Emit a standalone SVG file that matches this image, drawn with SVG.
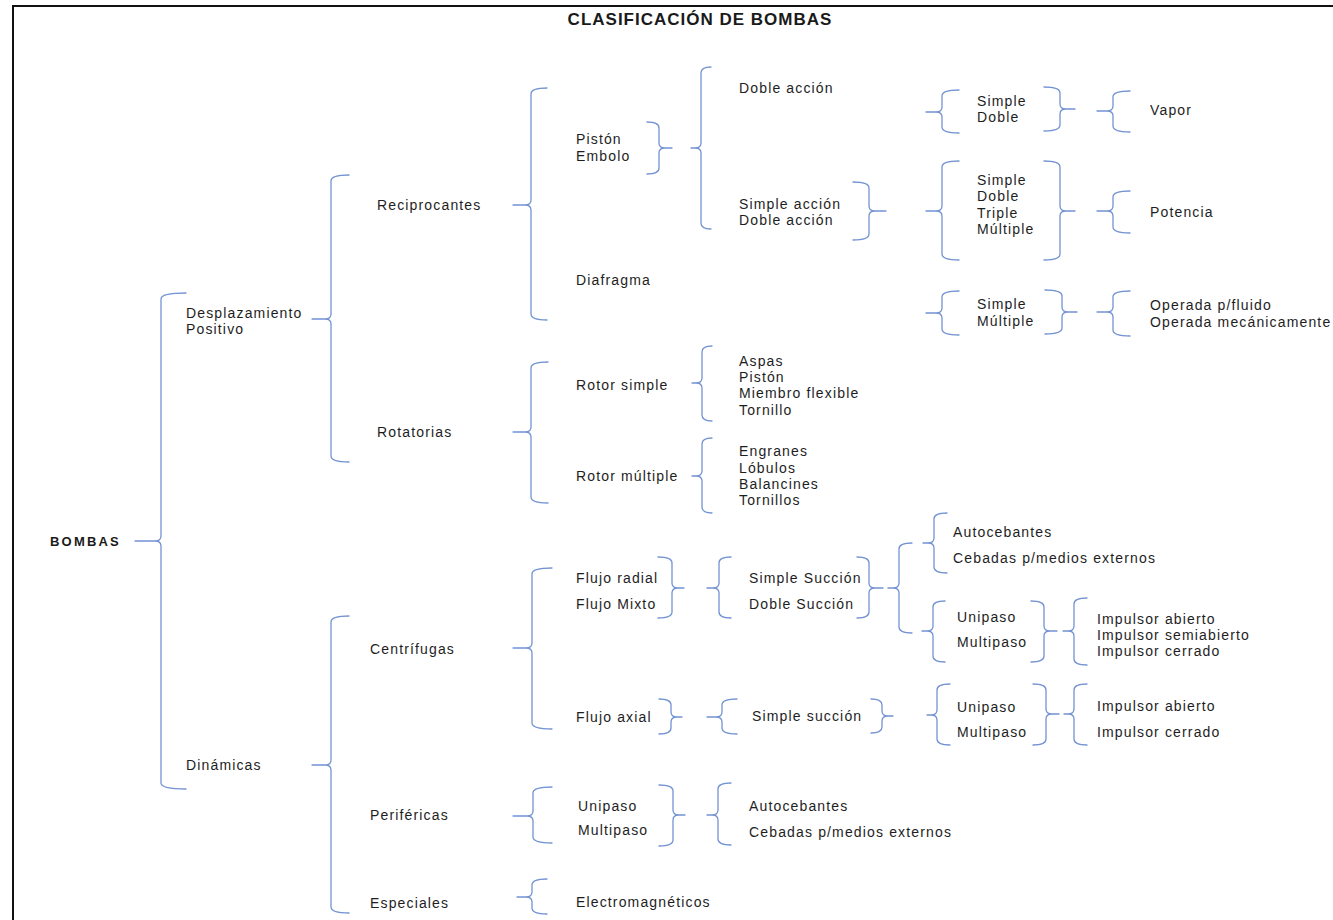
<svg xmlns="http://www.w3.org/2000/svg" width="1333" height="920" viewBox="0 0 1333 920">
<style>
.t{font-family:"Liberation Sans",Arial,sans-serif;font-size:14px;letter-spacing:1.15px;fill:#1e1e1e}
.b{font-family:"Liberation Sans",Arial,sans-serif;font-weight:bold;fill:#1a1a1a}
.br{fill:none;stroke:#7393d3;stroke-width:1.3;stroke-linecap:round;stroke-linejoin:round}
</style>
<rect x="0" y="0" width="1333" height="920" fill="#fff"/>
<path d="M13,920 L13,6 L1333,6" fill="none" stroke="#111" stroke-width="2"/>
<g id="title"><text class="b" x="700" y="25" font-size="17" letter-spacing="1" text-anchor="middle">CLASIFICACIÓN DE BOMBAS</text></g>
<g id="connectors">
<path class="br" d="M186,293 Q161,293 161,299 L161,536 Q161,541 155,541 L135,541 M155,541 Q161,541 161,546 L161,783 Q161,789 186,789"/>
<path class="br" d="M349,175 Q331,175 331,181 L331,314 Q331,319 325,319 L312,319 M325,319 Q331,319 331,324 L331,456 Q331,462 349,462"/>
<path class="br" d="M547,88 Q531,88 531,94 L531,200 Q531,205 525,205 L513,205 M525,205 Q531,205 531,210 L531,314 Q531,320 547,320"/>
<path class="br" d="M647,122 Q659,122 659,128 L659,143 Q659,148 665,148 L672,148 M665,148 Q659,148 659,153 L659,168 Q659,174 647,174"/>
<path class="br" d="M711,67 Q701,67 701,73 L701,143 Q701,148 695,148 L691,148 M695,148 Q701,148 701,153 L701,223 Q701,229 711,229"/>
<path class="br" d="M853,182 Q869,182 869,188 L869,206 Q869,211 875,211 L886,211 M875,211 Q869,211 869,216 L869,234 Q869,240 853,240"/>
<path class="br" d="M959,90 Q942,90 942,96 L942,107 Q942,112 936,112 L926,112 M936,112 Q942,112 942,117 L942,127 Q942,133 959,133"/>
<path class="br" d="M1044,87 Q1060,87 1060,93 L1060,104 Q1060,109 1066,109 L1075,109 M1066,109 Q1060,109 1060,114 L1060,125 Q1060,131 1044,131"/>
<path class="br" d="M1130,91 Q1113,91 1113,97 L1113,106 Q1113,111 1107,111 L1097,111 M1107,111 Q1113,111 1113,116 L1113,126 Q1113,132 1130,132"/>
<path class="br" d="M959,161 Q942,161 942,167 L942,206 Q942,211 936,211 L926,211 M936,211 Q942,211 942,216 L942,254 Q942,260 959,260"/>
<path class="br" d="M1044,161 Q1060,161 1060,167 L1060,206 Q1060,211 1066,211 L1075,211 M1066,211 Q1060,211 1060,216 L1060,254 Q1060,260 1044,260"/>
<path class="br" d="M1130,191 Q1113,191 1113,197 L1113,206 Q1113,211 1107,211 L1097,211 M1107,211 Q1113,211 1113,216 L1113,227 Q1113,233 1130,233"/>
<path class="br" d="M959,291 Q942,291 942,297 L942,308 Q942,313 936,313 L926,313 M936,313 Q942,313 942,318 L942,329 Q942,335 959,335"/>
<path class="br" d="M1045,290 Q1062,290 1062,296 L1062,307 Q1062,312 1068,312 L1077,312 M1068,312 Q1062,312 1062,317 L1062,328 Q1062,334 1045,334"/>
<path class="br" d="M1130,291 Q1113,291 1113,297 L1113,307 Q1113,312 1107,312 L1097,312 M1107,312 Q1113,312 1113,317 L1113,330 Q1113,336 1130,336"/>
<path class="br" d="M548,362 Q531,362 531,368 L531,427 Q531,432 525,432 L513,432 M525,432 Q531,432 531,437 L531,497 Q531,503 548,503"/>
<path class="br" d="M712,346 Q702,346 702,352 L702,378 Q702,383 696,383 L692,383 M696,383 Q702,383 702,388 L702,415 Q702,421 712,421"/>
<path class="br" d="M712,438 Q702,438 702,444 L702,471 Q702,476 696,476 L692,476 M696,476 Q702,476 702,481 L702,507 Q702,513 712,513"/>
<path class="br" d="M349,616 Q331,616 331,622 L331,760 Q331,765 325,765 L312,765 M325,765 Q331,765 331,770 L331,907 Q331,913 349,913"/>
<path class="br" d="M552,568 Q532,568 532,574 L532,643 Q532,648 526,648 L513,648 M526,648 Q532,648 532,653 L532,723 Q532,729 552,729"/>
<path class="br" d="M658,557 Q672,557 672,563 L672,583 Q672,588 678,588 L684,588 M678,588 Q672,588 672,593 L672,612 Q672,618 658,618"/>
<path class="br" d="M731,557 Q719,557 719,563 L719,583 Q719,588 713,588 L707,588 M713,588 Q719,588 719,593 L719,612 Q719,618 731,618"/>
<path class="br" d="M857,557 Q869,557 869,563 L869,583 Q869,588 875,588 L883,588 M875,588 Q869,588 869,593 L869,612 Q869,618 857,618"/>
<path class="br" d="M912,543 Q899,543 899,549 L899,583 Q899,588 893,588 L888,588 M893,588 Q899,588 899,593 L899,627 Q899,633 912,633"/>
<path class="br" d="M947,513 Q934,513 934,519 L934,538 Q934,543 928,543 L923,543 M928,543 Q934,543 934,548 L934,567 Q934,573 947,573"/>
<path class="br" d="M945,601 Q933,601 933,607 L933,626 Q933,631 927,631 L922,631 M927,631 Q933,631 933,636 L933,656 Q933,662 945,662"/>
<path class="br" d="M1031,601 Q1044,601 1044,607 L1044,626 Q1044,631 1050,631 L1057,631 M1050,631 Q1044,631 1044,636 L1044,656 Q1044,662 1031,662"/>
<path class="br" d="M1087,598 Q1074,598 1074,604 L1074,626 Q1074,631 1068,631 L1063,631 M1068,631 Q1074,631 1074,636 L1074,659 Q1074,665 1087,665"/>
<path class="br" d="M659,699 Q671,699 671,705 L671,712 Q671,717 677,717 L682,717 M677,717 Q671,717 671,722 L671,728 Q671,734 659,734"/>
<path class="br" d="M737,699 Q722,699 722,705 L722,712 Q722,717 716,717 L707,717 M716,717 Q722,717 722,722 L722,728 Q722,734 737,734"/>
<path class="br" d="M871,699 Q882,699 882,705 L882,711 Q882,716 888,716 L893,716 M888,716 Q882,716 882,721 L882,727 Q882,733 871,733"/>
<path class="br" d="M950,684 Q937,684 937,690 L937,710 Q937,715 931,715 L927,715 M931,715 Q937,715 937,720 L937,739 Q937,745 950,745"/>
<path class="br" d="M1033,684 Q1046,684 1046,690 L1046,709 Q1046,714 1052,714 L1059,714 M1052,714 Q1046,714 1046,719 L1046,739 Q1046,745 1033,745"/>
<path class="br" d="M1087,684 Q1074,684 1074,690 L1074,709 Q1074,714 1068,714 L1064,714 M1068,714 Q1074,714 1074,719 L1074,739 Q1074,745 1087,745"/>
<path class="br" d="M552,787 Q533,787 533,793 L533,811 Q533,816 527,816 L513,816 M527,816 Q533,816 533,821 L533,837 Q533,843 552,843"/>
<path class="br" d="M659,785 Q673,785 673,791 L673,810 Q673,815 679,815 L685,815 M679,815 Q673,815 673,820 L673,840 Q673,846 659,846"/>
<path class="br" d="M731,783 Q718,783 718,789 L718,810 Q718,815 712,815 L707,815 M712,815 Q718,815 718,820 L718,839 Q718,845 731,845"/>
<path class="br" d="M547,879 Q532,879 532,885 L532,892 Q532,897 526,897 L517,897 M526,897 Q532,897 532,902 L532,908 Q532,914 547,914"/>
</g>
<g id="n-bombas"><text class="b" x="50" y="546" font-size="13" letter-spacing="2.2">BOMBAS</text></g>
<g id="n-desplazamiento"><text class="t" x="186" y="318">Desplazamiento</text><text class="t" x="186" y="334">Positivo</text></g>
<g id="n-dinamicas"><text class="t" x="186" y="770">Dinámicas</text></g>
<g id="n-reciprocantes"><text class="t" x="377" y="210">Reciprocantes</text></g>
<g id="n-rotatorias"><text class="t" x="377" y="437">Rotatorias</text></g>
<g id="n-piston"><text class="t" x="576" y="144">Pistón</text><text class="t" x="576" y="161">Embolo</text></g>
<g id="n-diafragma"><text class="t" x="576" y="285">Diafragma</text></g>
<g id="n-doble-accion"><text class="t" x="739" y="93">Doble acción</text></g>
<g id="n-simple-accion"><text class="t" x="739" y="209">Simple acción</text><text class="t" x="739" y="225">Doble acción</text></g>
<g id="n-simple-doble"><text class="t" x="977" y="106">Simple</text><text class="t" x="977" y="122">Doble</text></g>
<g id="n-vapor"><text class="t" x="1150" y="115">Vapor</text></g>
<g id="n-simple-multiple4"><text class="t" x="977" y="185">Simple</text><text class="t" x="977" y="201">Doble</text><text class="t" x="977" y="218">Triple</text><text class="t" x="977" y="234">Múltiple</text></g>
<g id="n-potencia"><text class="t" x="1150" y="217">Potencia</text></g>
<g id="n-simple-multiple"><text class="t" x="977" y="309">Simple</text><text class="t" x="977" y="326">Múltiple</text></g>
<g id="n-operada"><text class="t" x="1150" y="310">Operada p/fluido</text><text class="t" x="1150" y="327">Operada mecánicamente</text></g>
<g id="n-rotor-simple"><text class="t" x="576" y="390">Rotor simple</text></g>
<g id="n-rotor-multiple"><text class="t" x="576" y="481">Rotor múltiple</text></g>
<g id="n-aspas"><text class="t" x="739" y="366">Aspas</text><text class="t" x="739" y="382">Pistón</text><text class="t" x="739" y="398">Miembro flexible</text><text class="t" x="739" y="415">Tornillo</text></g>
<g id="n-engranes"><text class="t" x="739" y="456">Engranes</text><text class="t" x="739" y="473">Lóbulos</text><text class="t" x="739" y="489">Balancines</text><text class="t" x="739" y="505">Tornillos</text></g>
<g id="n-centrifugas"><text class="t" x="370" y="654">Centrífugas</text></g>
<g id="n-perifericas"><text class="t" x="370" y="820">Periféricas</text></g>
<g id="n-especiales"><text class="t" x="370" y="908">Especiales</text></g>
<g id="n-flujo-radial"><text class="t" x="576" y="583">Flujo radial</text><text class="t" x="576" y="609">Flujo Mixto</text></g>
<g id="n-flujo-axial"><text class="t" x="576" y="722">Flujo axial</text></g>
<g id="n-succion"><text class="t" x="749" y="583">Simple Succión</text><text class="t" x="749" y="609">Doble Succión</text></g>
<g id="n-cebado1"><text class="t" x="953" y="537">Autocebantes</text><text class="t" x="953" y="563">Cebadas p/medios externos</text></g>
<g id="n-pasos1"><text class="t" x="957" y="622">Unipaso</text><text class="t" x="957" y="647">Multipaso</text></g>
<g id="n-impulsor1"><text class="t" x="1097" y="624">Impulsor abierto</text><text class="t" x="1097" y="640">Impulsor semiabierto</text><text class="t" x="1097" y="656">Impulsor cerrado</text></g>
<g id="n-simple-succion"><text class="t" x="752" y="721">Simple succión</text></g>
<g id="n-pasos2"><text class="t" x="957" y="712">Unipaso</text><text class="t" x="957" y="737">Multipaso</text></g>
<g id="n-impulsor2"><text class="t" x="1097" y="711">Impulsor abierto</text><text class="t" x="1097" y="737">Impulsor cerrado</text></g>
<g id="n-pasos3"><text class="t" x="578" y="811">Unipaso</text><text class="t" x="578" y="835">Multipaso</text></g>
<g id="n-cebado2"><text class="t" x="749" y="811">Autocebantes</text><text class="t" x="749" y="837">Cebadas p/medios externos</text></g>
<g id="n-electromagneticos"><text class="t" x="576" y="907">Electromagnéticos</text></g>
</svg>
